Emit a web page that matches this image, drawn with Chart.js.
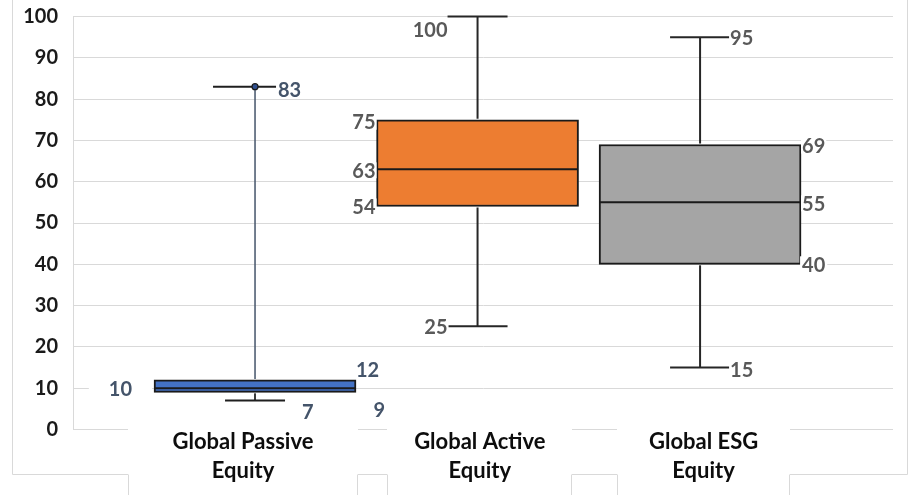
<!DOCTYPE html>
<html>
<head>
<meta charset="utf-8">
<script src="https://cdn.jsdelivr.net/npm/chart.js@4.4.1/dist/chart.umd.min.js"></script>
<style>
  html, body { margin: 0; padding: 0; background: #ffffff; }
  #wrap { width: 909px; height: 495px; position: relative; }
</style>
</head>
<body>
<div id="wrap"><canvas id="c"></canvas></div>
<script>
// Five-number summaries per fund group
const categories = [['Global Passive', 'Equity'], ['Global Active', 'Equity'], ['Global ESG', 'Equity']];
const minValues = [7, 25, 15];
const q1Values = [9, 54, 40];
const medianValues = [10, 63, 55];
const q3Values = [12, 75, 69];
const maxValues = [83, 100, 95];
const yTickValues = [0, 10, 20, 30, 40, 50, 60, 70, 80, 90, 100];

const boxColors = ['#4472c4', '#ed7d31', '#a5a5a5'];
const labelColors = ['#44546a', '#595959', '#595959'];
const FONT = 'Lato, "Open Sans", sans-serif';

const summaries = categories.map((c, i) => ({
  min: minValues[i], q1: q1Values[i], median: medianValues[i], q3: q3Values[i], max: maxValues[i]
}));

// Whisker styling per group
const whiskerStyles = [
  { upColor: '#44546a', upWidth: 1.5, lowColor: '#3a3a3a', capColor: '#1f1f1f', upCap: 42, lowCap: 30, dot: true },
  { upColor: '#262626', upWidth: 2, lowColor: '#262626', capColor: '#262626', upCap: 30, lowCap: 30, dot: false },
  { upColor: '#262626', upWidth: 2, lowColor: '#262626', capColor: '#262626', upCap: 30, lowCap: 30, dot: false }
];

// Where each value label sits relative to its box
const labelLayout = [
  [
    { key: 'max', ref: 'center', dx: 23, dy: 3, align: 'left', pad: 2 },
    { key: 'q3', ref: 'boxRight', dx: 0, dy: -10.5, align: 'left', pad: 3 },
    { key: 'median', ref: 'boxLeft', dx: -22, dy: 0, align: 'right', pad: 20 },
    { key: 'q1', ref: 'boxRight', dx: 17.5, dy: 17.5, align: 'left', pad: 3 },
    { key: 'min', ref: 'center', dx: 47, dy: 11, align: 'left', pad: 3 }
  ],
  [
    { key: 'max', ref: 'center', dx: -30, dy: 13, align: 'right', pad: 2 },
    { key: 'q3', ref: 'boxLeft', dx: -1, dy: 2, align: 'right', pad: 1 },
    { key: 'median', ref: 'boxLeft', dx: -1, dy: 1, align: 'right', pad: 1 },
    { key: 'q1', ref: 'boxLeft', dx: -1, dy: 0, align: 'right', pad: 1 },
    { key: 'min', ref: 'center', dx: -30, dy: 0, align: 'right', pad: 1 }
  ],
  [
    { key: 'max', ref: 'center', dx: 30, dy: 0.5, align: 'left', pad: 1 },
    { key: 'q3', ref: 'boxRight', dx: 1, dy: 1, align: 'left', pad: 1 },
    { key: 'median', ref: 'boxRight', dx: 1, dy: 1, align: 'left', pad: 1 },
    { key: 'q1', ref: 'boxRight', dx: 1, dy: 0, align: 'left', pad: 2 },
    { key: 'min', ref: 'center', dx: 30, dy: 1.5, align: 'left', pad: 1 }
  ]
];

// Category label panels and their offsets from the box centres
const labelShift = [-0.054, 0.01, 0.016];
const panelHalfWidths = [115, 92.5, 86.5];

const boxPlotPlugin = {
  id: 'boxPlot',
  beforeDraw(chart) {
    const ctx = chart.ctx;
    ctx.save();
    ctx.strokeStyle = '#d9d9d9';
    ctx.lineWidth = 1;
    ctx.beginPath();
    ctx.moveTo(12.5, 0);
    ctx.lineTo(12.5, 474.5);
    ctx.lineTo(907.5, 474.5);
    ctx.lineTo(907.5, 0);
    ctx.stroke();
    ctx.restore();
  },
  beforeDatasetsDraw(chart) {
    const ctx = chart.ctx;
    const xs = chart.scales.x;
    ctx.save();
    xs.ticks.forEach((t, i) => {
      const cx = xs.getPixelForValue(t.value);
      const hw = panelHalfWidths[i];
      const l = Math.round(cx - hw), r = Math.round(cx + hw);
      ctx.fillStyle = '#ffffff';
      ctx.fillRect(l, 412, r - l, 83);
      ctx.strokeStyle = '#d9d9d9';
      ctx.lineWidth = 1;
      ctx.beginPath();
      ctx.moveTo(l + 0.5, 474.5); ctx.lineTo(l + 0.5, 495);
      ctx.moveTo(r - 0.5, 474.5); ctx.lineTo(r - 0.5, 495);
      ctx.stroke();
    });
    ctx.restore();
  },
  afterDatasetsDraw(chart) {
    const ctx = chart.ctx;
    const ys = chart.scales.y;
    const meta = chart.getDatasetMeta(0);
    ctx.save();
    summaries.forEach((s, i) => {
      const bar = meta.data[i];
      const cx = bar.x;
      const half = bar.width / 2;
      const st = whiskerStyles[i];
      const yMax = ys.getPixelForValue(s.max), yQ3 = ys.getPixelForValue(s.q3);
      const yQ1 = ys.getPixelForValue(s.q1), yMin = ys.getPixelForValue(s.min);
      const yMed = ys.getPixelForValue(s.median);
      ctx.lineCap = 'butt';
      // upper whisker
      ctx.strokeStyle = st.upColor; ctx.lineWidth = st.upWidth;
      ctx.beginPath(); ctx.moveTo(cx, yQ3 - 1); ctx.lineTo(cx, yMax); ctx.stroke();
      ctx.strokeStyle = st.capColor; ctx.lineWidth = 2;
      ctx.beginPath(); ctx.moveTo(cx - st.upCap, yMax); ctx.lineTo(cx + st.upCap, yMax); ctx.stroke();
      // lower whisker
      ctx.strokeStyle = st.lowColor; ctx.lineWidth = 2;
      ctx.beginPath(); ctx.moveTo(cx, yQ1 + 1); ctx.lineTo(cx, yMin); ctx.stroke();
      ctx.strokeStyle = st.capColor;
      ctx.beginPath(); ctx.moveTo(cx - st.lowCap, yMin); ctx.lineTo(cx + st.lowCap, yMin); ctx.stroke();
      // median
      ctx.strokeStyle = '#1a1a1a'; ctx.lineWidth = 2;
      ctx.beginPath(); ctx.moveTo(cx - half + 1, yMed); ctx.lineTo(cx + half - 1, yMed); ctx.stroke();
      if (st.dot) {
        ctx.fillStyle = '#2f4f8f'; ctx.strokeStyle = '#1a1a1a'; ctx.lineWidth = 1.2;
        ctx.beginPath(); ctx.arc(cx, yMax, 3, 0, Math.PI * 2); ctx.fill(); ctx.stroke();
      }
    });
    // value labels
    ctx.font = 'bold 20px ' + FONT;
    ctx.textBaseline = 'middle';
    summaries.forEach((s, i) => {
      const bar = meta.data[i];
      const cx = bar.x, half = bar.width / 2;
      labelLayout[i].forEach(spec => {
        const text = String(s[spec.key]);
        const refX = spec.ref === 'center' ? cx : (spec.ref === 'boxLeft' ? cx - half : cx + half);
        const x = refX + spec.dx;
        const y = ys.getPixelForValue(s[spec.key]) + spec.dy;
        const w = ctx.measureText(text).width;
        const left = spec.align === 'left' ? x : x - w;
        ctx.fillStyle = '#ffffff';
        ctx.fillRect(left - spec.pad, y - 8, w + spec.pad * 2, 16);
        ctx.fillStyle = labelColors[i];
        ctx.textAlign = spec.align;
        ctx.fillText(text, x, y + 1);
      });
    });
    ctx.restore();
  }
};

new Chart(document.getElementById('c'), {
  type: 'bar',
  data: {
    datasets: [{
      data: summaries.map((s, i) => ({ x: i + 1, y: [s.q1, s.q3] })),
      backgroundColor: boxColors,
      borderColor: '#1a1a1a',
      borderWidth: 2,
      borderSkipped: false,
      barThickness: 202
    }]
  },
  options: {
    responsive: true,
    maintainAspectRatio: false,
    animation: false,
    layout: { padding: { top: 16.5, right: 16, left: 0, bottom: 0 } },
    plugins: { legend: { display: false }, tooltip: { enabled: false } },
    scales: {
      x: {
        type: 'linear',
        offset: false,
        min: 0.182,
        max: 3.867,
        grid: { display: false, offset: false },
        border: { display: false },
        afterBuildTicks: (axis) => {
          axis.ticks = categories.map((c, i) => ({ value: i + 1 + labelShift[i] }));
        },
        afterFit: (axis) => { axis.height = 65.5; axis.paddingLeft = 0; axis.paddingRight = 0; },
        ticks: {
          z: 1,
          autoSkip: false,
          maxRotation: 0,
          padding: -10,
          color: '#0d0d0d',
          font: { family: FONT, size: 22, weight: 'bold', lineHeight: 1.32 },
          callback: (value, index) => categories[index]
        }
      },
      y: {
        min: 0,
        max: 100,
        afterBuildTicks: (axis) => { axis.ticks = yTickValues.map(v => ({ value: v })); },
        afterFit: (axis) => { axis.width = 73; axis.paddingTop = 0; axis.paddingBottom = 0; },
        grid: { color: '#d9d9d9', lineWidth: 1, drawTicks: false },
        border: { color: '#d9d9d9', width: 1 },
        ticks: {
          padding: 15,
          color: '#1a1a1a',
          font: { family: FONT, size: 20, weight: 'bold' }
        }
      }
    }
  },
  plugins: [boxPlotPlugin]
});
</script>
</body>
</html>
